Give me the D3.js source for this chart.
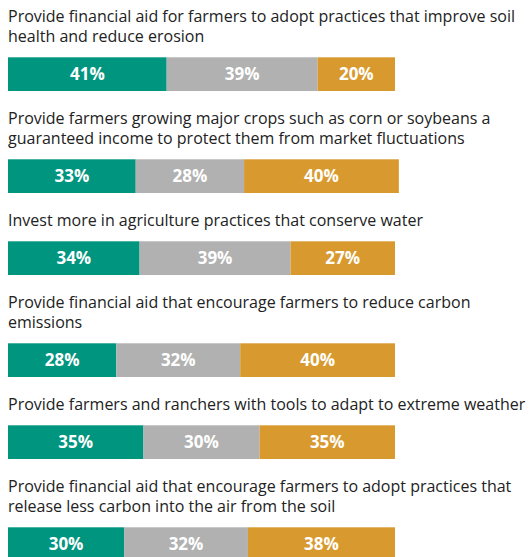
<!DOCTYPE html>
<html>
<head>
<meta charset="utf-8">
<script src="https://cdn.jsdelivr.net/npm/d3@7"></script>
<style>
  html, body { margin: 0; padding: 0; background: #fff; }
  svg { display: block; }
</style>
</head>
<body>
<svg id="chart" width="529" height="557"></svg>
<script>
// Data
const categories = [
  ["Provide financial aid for farmers to adopt practices that improve soil", "health and reduce erosion"],
  ["Provide farmers growing major crops such as corn or soybeans a", "guaranteed income to protect them from market fluctuations"],
  ["Invest more in agriculture practices that conserve water"],
  ["Provide financial aid that encourage farmers to reduce carbon", "emissions"],
  ["Provide farmers and ranchers with tools to adapt to extreme weather"],
  ["Provide financial aid that encourage farmers to adopt practices that", "release less carbon into the air from the soil"]
];
const seriesA = [41, 33, 34, 28, 35, 30];
const seriesB = [39, 28, 39, 32, 30, 32];
const seriesC = [20, 40, 27, 40, 35, 38];
const seriesKeys = ["a", "b", "c"];
const seriesColors = ["#00957f", "#b0b1b0", "#d89a2e"];

const rows = categories.map((lines, i) => ({ lines, a: seriesA[i], b: seriesB[i], c: seriesC[i] }));
const stack = d3.stack().keys(seriesKeys)(rows);

const svg = d3.select("#chart");
const x = d3.scaleLinear().domain([0, 100]).range([8, 395]);
const color = d3.scaleOrdinal().domain(seriesKeys).range(seriesColors);

const lineH = 20, barH = 33.7, titleToBar = 15.3, barToTitle = 33;
let prevBottom = 22 - barToTitle;
const layout = rows.map(r => {
  const firstBaseline = prevBottom + barToTitle;
  const lastBaseline = firstBaseline + lineH * (r.lines.length - 1);
  const top = lastBaseline + titleToBar;
  prevBottom = top + barH;
  return { firstBaseline, top };
});

// titles
const titles = svg.append("g").selectAll("text").data(rows).join("text")
  .attr("x", 8)
  .attr("y", (d, i) => layout[i].firstBaseline)
  .attr("font-family", "'Open Sans', sans-serif")
  .attr("font-size", 16)
  .attr("fill", "#222");
titles.each(function(d) {
  d3.select(this).selectAll("tspan").data(d.lines).join("tspan")
    .attr("x", 8)
    .attr("dy", (l, j) => j === 0 ? 0 : lineH)
    .text(l => l);
});

// bars
const groups = svg.append("g").selectAll("g").data(stack).join("g")
  .attr("fill", s => color(s.key));
groups.selectAll("rect").data(s => s).join("rect")
  .attr("x", d => x(d[0]))
  .attr("width", d => x(d[1]) - x(d[0]))
  .attr("y", (d, i) => layout[i].top)
  .attr("height", barH);

// labels
const lab = svg.append("g").selectAll("g").data(stack).join("g");
lab.selectAll("text").data(s => s.map(d => ({ d, key: s.key }))).join("text")
  .attr("x", o => (x(o.d[0]) + x(o.d[1])) / 2)
  .attr("y", (o, i) => layout[i].top + barH / 2)
  .attr("dy", "0.36em")
  .attr("text-anchor", "middle")
  .attr("font-family", "'Open Sans', sans-serif")
  .attr("font-weight", "bold")
  .attr("font-size", 17)
  .attr("fill", "#fff")
  .text(o => (o.d[1] - o.d[0]) + "%");
</script>
</body>
</html>
